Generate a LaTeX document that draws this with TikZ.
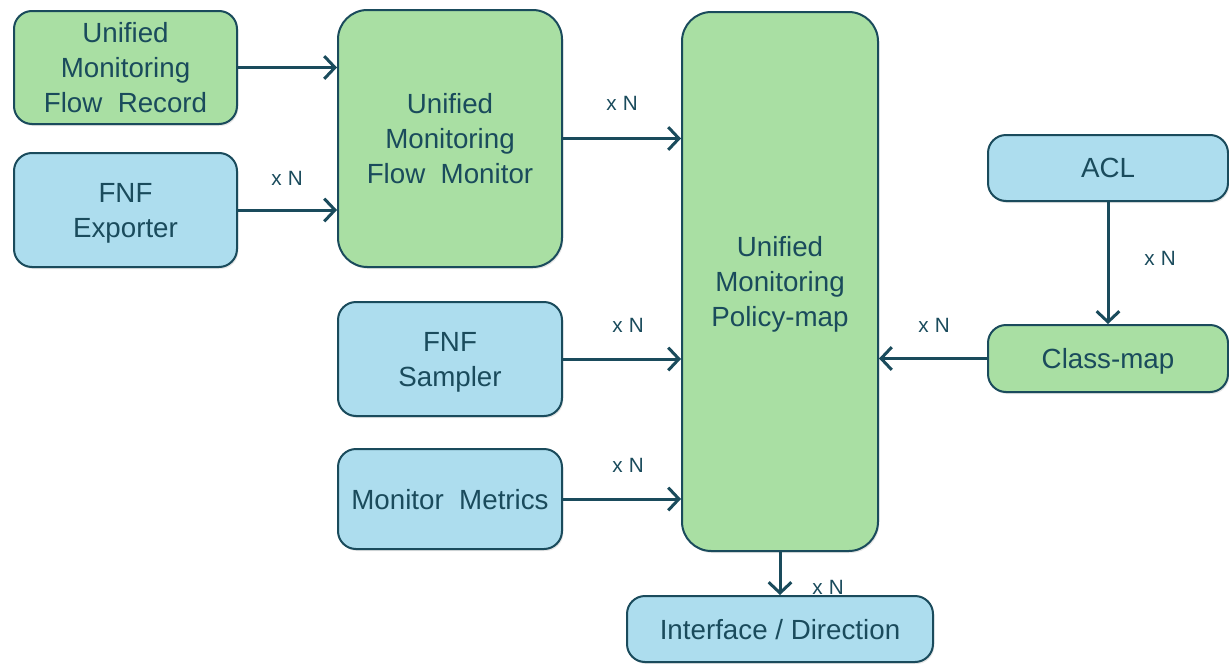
\documentclass[tikz,border=0pt]{standalone}
\usepackage{fontspec}
\setmainfont{Liberation Sans}
\usetikzlibrary{arrows.meta,shadows}
\definecolor{umgreen}{HTML}{A9DFA3}
\definecolor{umblue}{HTML}{ADDDEE}
\definecolor{umline}{HTML}{1A4B5C}

\begin{document}
\begin{tikzpicture}[x=0.75pt, y=-0.75pt,
  box/.style={draw=umline, line width=1.5pt, rounded corners=13.5pt, align=center,
    text=umline, font=\fontsize{20.8}{26.25}\selectfont, inner sep=0pt, text depth=0pt,
    drop shadow={opacity=0.2, shadow xshift=1pt, shadow yshift=-1.5pt}},
  gbox/.style={box, fill=umgreen},
  bbox/.style={box, fill=umblue},
  big/.style={rounded corners=22pt},
  lbl/.style={text=umline, font=\fontsize{15.5}{18}\selectfont, inner sep=0pt},
  arr/.style={draw=umline, line width=2.25pt, -{Straight Barb[length=8pt, width=17pt, line width=2.25pt]}}]
\useasboundingbox (0,0) rectangle (1229,664);

\node[gbox, minimum width=167.25pt, minimum height=84.75pt](rec) at (125.5,67.5) {Unified\\Monitoring\\Flow~ Record};
\node[bbox, minimum width=167.25pt, minimum height=85.5pt](exp) at (125.5,210) {FNF\\Exporter};
\node[gbox, big, minimum width=168pt, minimum height=192.75pt](mon) at (450,138.5) {Unified\\Monitoring\\Flow~ Monitor};
\node[bbox, minimum width=168pt, minimum height=85.5pt](smp) at (450,359) {FNF\\Sampler};
\node[bbox, minimum width=168pt, minimum height=75pt](met) at (450,499) {Monitor~ Metrics};
\node[gbox, big, minimum width=147pt, minimum height=404.25pt](pol) at (780,281.5) {Unified\\Monitoring\\Policy-map};
\node[bbox, minimum width=180pt, minimum height=49.5pt](acl) at (1108,168) {ACL};
\node[gbox, minimum width=180pt, minimum height=50.25pt](cls) at (1108,358.5) {Class-map};
\node[bbox, minimum width=229.5pt, minimum height=49.5pt](ifd) at (780,629) {Interface / Direction};

\draw[arr] (rec.east) -- (rec.east -| mon.west);
\draw[arr] (exp.east) -- (exp.east -| mon.west);
\draw[arr] (mon.east) -- (mon.east -| pol.west);
\draw[arr] (smp.east) -- (smp.east -| pol.west);
\draw[arr] (met.east) -- (met.east -| pol.west);
\draw[arr] (cls.west) -- (cls.west -| pol.east);
\draw[arr] (acl.south) -- (cls.north);
\draw[arr] (pol.south) -- (ifd.north);

\node[lbl](n1) at (287,178) {x\hspace{0.3em}N};
\node[lbl](n2) at (622,103) {x\hspace{0.3em}N};
\node[lbl](n3) at (628,325) {x\hspace{0.3em}N};
\node[lbl](n4) at (628,465) {x\hspace{0.3em}N};
\node[lbl](n5) at (934,325) {x\hspace{0.3em}N};
\node[lbl](n6) at (1160,258) {x\hspace{0.3em}N};
\node[lbl](n7) at (828,587) {x\hspace{0.3em}N};
\end{tikzpicture}
\end{document}
